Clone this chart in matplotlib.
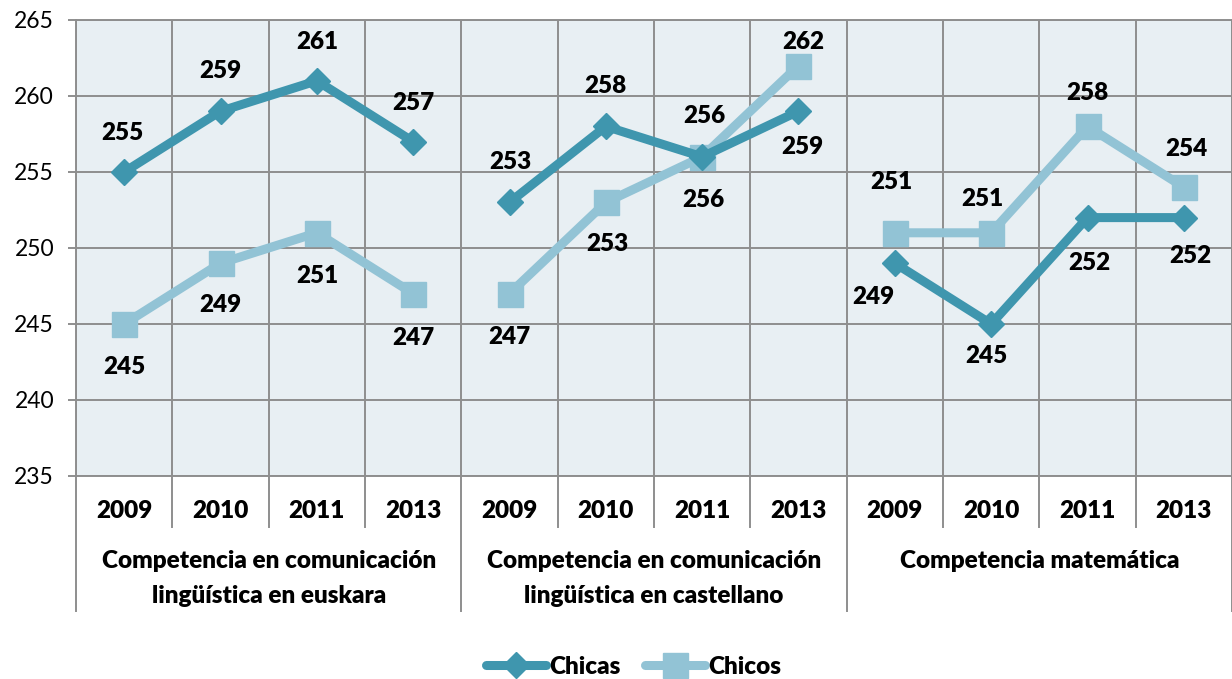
import numpy as np
import matplotlib.pyplot as plt
from matplotlib.lines import Line2D

plt.rcParams['font.family'] = ['Lato', 'DejaVu Sans']

years = ['2009', '2010', '2011', '2013']
groups = [['Competencia en comunicación', 'lingüística en euskara'],
          ['Competencia en comunicación', 'lingüística en castellano'],
          ['Competencia matemática']]

chicas = [255, 259, 261, 257, 253, 258, 256, 259, 249, 245, 252, 252]
chicos = [245, 249, 251, 247, 247, 253, 256, 262, 251, 251, 258, 254]

# label offsets in pixels (dx, dy) for each value label
off_chicas = [(-2, 39), (0, 40), (0, 39), (0, 39),
              (1, 40), (0, 40), (2, 41), (4, -36),
              (-22, -34), (-5, -32), (2, -45), (6, -38)]
off_chicos = [(0, -43), (0, -42), (1, -43), (0, -44),
              (0, -43), (2, -42), (1, -43), (5, 24),
              (-3, 51), (-9, 34), (0, 33), (3, 38)]

c_chicas = '#3F96AE'
c_chicos = '#92C3D5'
grid_c = '#8E8E8E'
fs = 17.5
wt = 'heavy'

fig = plt.figure(figsize=(12.32, 6.79), dpi=100)
ax = fig.add_axes([76/1232, 1-476/679, 1-76/1232, 456/679])
ax.set_facecolor('#E8EFF3')

x = np.arange(12)
for g in range(3):
    s = slice(4*g, 4*g+4)
    ax.plot(x[s], chicas[s], color=c_chicas, lw=6.5, marker='D', ms=13,
            solid_joinstyle='miter', zorder=4)
    ax.plot(x[s], chicos[s], color=c_chicos, lw=6.5, marker='s', ms=18,
            solid_joinstyle='miter', zorder=3)

for i in range(12):
    ax.annotate(str(chicas[i]), (x[i], chicas[i]), xytext=off_chicas[i],
                textcoords='offset pixels', ha='center', va='center',
                fontsize=fs, fontweight=wt, zorder=5)
    ax.annotate(str(chicos[i]), (x[i], chicos[i]), xytext=off_chicos[i],
                textcoords='offset pixels', ha='center', va='center',
                fontsize=fs, fontweight=wt, zorder=5)

ax.set_xlim(-0.5, 11.5)
ax.set_ylim(235, 265)
ax.set_yticks(range(235, 266, 5))
ax.tick_params(axis='y', length=5.8, width=1.4, color=grid_c, pad=10,
               labelsize=16.5)
ax.set_xticks([])
ax.yaxis.grid(True, color=grid_c, lw=1.4)
ax.set_axisbelow(True)
for sp in ax.spines.values():
    sp.set_color(grid_c)
    sp.set_linewidth(1.4)

# vertical separators, inside the plot and down through the category labels
trans = ax.get_xaxis_transform()
for k in range(13):
    xv = k - 0.5
    ax.axvline(xv, color=grid_c, lw=1.4, zorder=1)
    ybot = -0.296 if k % 4 == 0 else -0.112
    ax.add_line(Line2D([xv, xv], [0, ybot], transform=trans, color=grid_c,
                       lw=1.4, clip_on=False))

for i in range(12):
    ax.text(i, -0.077, years[i % 4], transform=trans, ha='center',
            va='center', fontsize=fs, fontweight=wt)
for g, lines in enumerate(groups):
    for j, t in enumerate(lines):
        ax.text(4*g + 1.5, -0.186 - 0.077*j, t, transform=trans,
                ha='center', va='center', fontsize=fs, fontweight=wt)

handles = [Line2D([], [], color=c_chicas, lw=6.5, marker='D', ms=13,
                  solid_capstyle='round', label='Chicas'),
           Line2D([], [], color=c_chicos, lw=6.5, marker='s', ms=18,
                  solid_capstyle='round', label='Chicos')]
leg = fig.legend(handles=handles, loc='center', bbox_to_anchor=(0.514, 0.018),
                 ncol=2, frameon=False, handlelength=2.5, handletextpad=0.1,
                 columnspacing=1.0, prop={'size': fs, 'weight': wt})

fig.savefig('out.png', dpi=100)
